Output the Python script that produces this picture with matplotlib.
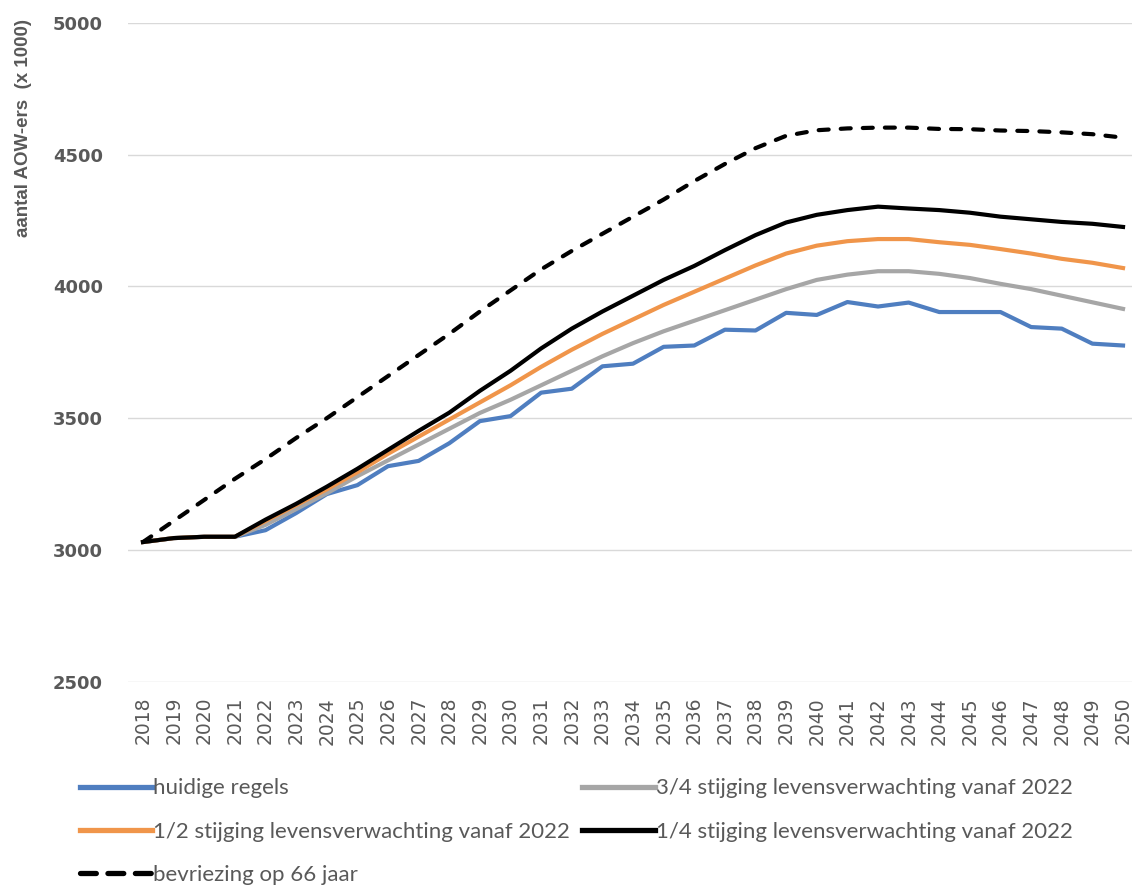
import matplotlib.pyplot as plt

# jaren en aantallen AOW-ers (x 1000)
years = list(range(2018, 2051))

huidig = [3030, 3045, 3050, 3050, 3075, 3140, 3212, 3246, 3318, 3338,
          3405, 3489, 3508, 3597, 3612, 3697, 3707, 3771, 3776, 3836,
          3833, 3900, 3892, 3941, 3924, 3939, 3903, 3903, 3903, 3846,
          3840, 3783, 3776]
drie_kwart = [3030, 3045, 3050, 3050, 3095, 3155, 3215, 3280, 3340, 3400,
              3460, 3520, 3570, 3625, 3680, 3735, 3785, 3830, 3870, 3910,
              3950, 3990, 4025, 4045, 4058, 4058, 4048, 4032, 4010, 3990,
              3965, 3940, 3915]
half = [3030, 3045, 3050, 3050, 3110, 3170, 3230, 3295, 3365, 3430,
        3495, 3560, 3625, 3695, 3760, 3820, 3875, 3930, 3980, 4030,
        4080, 4125, 4155, 4172, 4180, 4180, 4168, 4158, 4142, 4125,
        4105, 4090, 4070]
kwart = [3030, 3045, 3050, 3050, 3115, 3175, 3240, 3308, 3380, 3452,
         3521, 3604, 3680, 3765, 3840, 3905, 3965, 4025, 4078, 4138,
         4195, 4243, 4272, 4290, 4303, 4296, 4290, 4280, 4265, 4255,
         4245, 4238, 4226]
bevriezing = [3030, 3110, 3190, 3270, 3345, 3425, 3500, 3580, 3660, 3740,
              3820, 3905, 3985, 4065, 4135, 4200, 4265, 4330, 4400, 4465,
              4525, 4572, 4593, 4600, 4603, 4603, 4598, 4597, 4592, 4590,
              4585, 4578, 4565]

labels = {
    "huidig": "huidige regels",
    "drie_kwart": "3/4 stijging levensverwachting vanaf 2022",
    "half": "1/2 stijging levensverwachting vanaf 2022",
    "kwart": "1/4 stijging levensverwachting vanaf 2022",
    "bevriezing": "bevriezing op 66 jaar",
}
y_ticks = [2500, 3000, 3500, 4000, 4500, 5000]

text_grey = "#595959"

fig = plt.figure(figsize=(11.32, 8.89), dpi=100)
ax = fig.add_axes([0.1128, 0.2332, 0.8928, 0.7409])

lw = 3
h_blue, = ax.plot(years, huidig, color="#4F7EC0", lw=lw, label=labels["huidig"])
h_grey, = ax.plot(years, drie_kwart, color="#A6A6A6", lw=lw, label=labels["drie_kwart"])
h_orange, = ax.plot(years, half, color="#F0954A", lw=lw, label=labels["half"])
h_black, = ax.plot(years, kwart, color="black", lw=lw, label=labels["kwart"])
h_dash, = ax.plot(years, bevriezing, color="black", lw=lw,
                  linestyle=(0, (2.4, 2.9)), dash_capstyle="round",
                  label=labels["bevriezing"])

ax.set_xlim(2017.5, 2050.5)
ax.set_ylim(2500, 5000)
ax.set_yticks(y_ticks)
ax.set_xticks(years)
ax.set_xticklabels([str(y) for y in years], rotation=90,
                   fontsize=13.5, color=text_grey)
ax.set_yticklabels([str(v) for v in y_ticks], fontsize=13,
                   fontweight="bold", color=text_grey)
ax.tick_params(axis="x", length=0, pad=11)
ax.tick_params(axis="y", length=0, pad=18)
ax.grid(axis="y", color="#D9D9D9", lw=1)
ax.set_axisbelow(True)
for s in ax.spines.values():
    s.set_visible(False)

fig.text(0.021, 0.856, "aantal AOW-ers  (x 1000)", rotation=90,
         ha="center", va="center", fontsize=13.5, fontweight="bold",
         color=text_grey, family="Liberation Sans")

leg = fig.legend(
    handles=[h_blue, h_orange, h_dash, h_grey, h_black],
    ncol=2, loc="upper left", bbox_to_anchor=(0.0707, 0.1245),
    frameon=False, borderpad=0, borderaxespad=0,
    handlelength=3.25, handletextpad=0.05, columnspacing=0.55,
    labelspacing=1.05, prop={"family": "Lato", "size": 16},
)
for t in leg.get_texts():
    t.set_color(text_grey)
for ln in leg.get_lines():
    ln.set_linewidth(3.8)
leg.get_lines()[2].set_linestyle((0, (3.0, 2.2)))

fig.savefig("out.png", dpi=100)
